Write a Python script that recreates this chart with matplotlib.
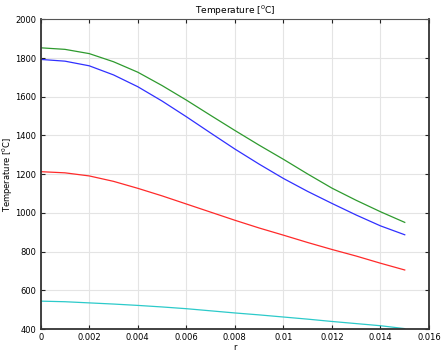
import numpy as np
import matplotlib
matplotlib.use("Agg")
import matplotlib.pyplot as plt

# values, r in m, temperature in degC
r = [0.0, 0.001, 0.002, 0.003, 0.004, 0.005, 0.006, 0.007,
     0.008, 0.009, 0.010, 0.011, 0.012, 0.013, 0.014, 0.015]
t_green = [1853, 1845, 1823, 1781, 1727, 1658, 1583, 1504,
           1426, 1350, 1277, 1201, 1128, 1065, 1006, 951]
t_blue = [1793, 1784, 1760, 1713, 1652, 1578, 1497, 1413,
          1330, 1252, 1178, 1111, 1049, 989, 933, 887]
t_red = [1213, 1207, 1191, 1163, 1127, 1088, 1046, 1004,
         962, 922, 885, 847, 811, 777, 740, 705]
t_cyan = [544, 541, 535, 529, 522, 514, 505, 494,
          483, 473, 462, 451, 439, 428, 417, 402]

xticks = [0, 0.002, 0.004, 0.006, 0.008, 0.01, 0.012, 0.014, 0.016]
xticklabels = ["0", "0.002", "0.004", "0.006", "0.008", "0.01", "0.012", "0.014", "0.016"]
yticks = [400, 600, 800, 1000, 1200, 1400, 1600, 1800, 2000]

plt.rcParams['font.family'] = ['DejaVu Sans']

fig = plt.figure(figsize=(4.41, 3.52), dpi=100)
ax = fig.add_axes([0.0923, 0.0653, 0.8805, 0.8797])

ax.plot(r, t_green, color="#2e9a2e", lw=0.9)
ax.plot(r, t_blue, color="#3030ff", lw=0.9)
ax.plot(r, t_red, color="#ff2a2a", lw=0.9)
ax.plot(r, t_cyan, color="#2ccaca", lw=0.9)

ax.set_xlim(0, 0.016)
ax.set_ylim(400, 2000)
ax.set_xticks(xticks)
ax.set_xticklabels(xticklabels)
ax.set_yticks(yticks)
ax.grid(True, color="#e4e4e4", lw=0.8)
ax.set_axisbelow(True)

ax.tick_params(direction="in", length=3, width=0.8, labelsize=6,
               top=True, right=True, color="#222222", pad=3)
for s in ax.spines.values():
    s.set_linewidth(1.3)
    s.set_color("#333333")
ax.spines["top"].set_linewidth(0.8)
ax.spines["top"].set_color("#555555")

ax.set_title("Temperature [$^{0}$C]", fontsize=6.5, pad=4)
ax.set_ylabel("Temperature [$^{0}$C]", fontsize=6)
ax.set_xlabel("r", fontsize=6)
ax.yaxis.set_label_coords(-0.066, 0.5)
ax.xaxis.set_label_coords(0.5, -0.045)

fig.savefig("out.png", dpi=100)
